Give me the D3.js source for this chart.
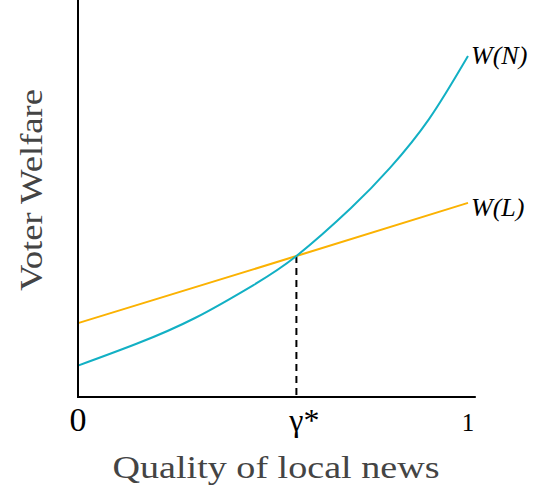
<!DOCTYPE html>
<html>
<head>
<meta charset="utf-8">
<script src="https://cdn.jsdelivr.net/npm/d3@7"></script>
<style>
  body { margin: 0; background: #fff; }
  svg { display: block; }
</style>
</head>
<body>
<div id="chart"></div>
<script>
// Voter welfare vs quality of local news: W(N) convex, W(L) linear, crossing at gamma*.

const quality = [0, 0.15, 0.3, 0.45, 0.56, 0.7, 0.8, 0.9, 1.0];
const welfareN = [0.079, 0.134, 0.199, 0.282, 0.355, 0.476, 0.577, 0.700, 0.859];
const qualityL = [0, 0.56, 1.0];
const welfareL = [0.186, 0.355, 0.489];
const gammaStar = 0.56;
const xTicks = [
  { v: 0, label: "0", size: 34 },
  { v: gammaStar, label: "γ*", size: 32 },
  { v: 1, label: "1", size: 25 }
];

const width = 543, height = 501;
const margin = { top: 0, left: 78, right: 75, bottom: 104 };

const svg = d3.select("#chart").append("svg")
  .attr("width", width).attr("height", height);

const x = d3.scaleLinear().domain([0, 1]).range([margin.left, width - margin.right]);
const y = d3.scaleLinear().domain([0, 1]).range([height - margin.bottom, margin.top]);

const line = d3.line().x(d => x(d[0])).y(d => y(d[1])).curve(d3.curveNatural);

// dashed drop line at gamma*
const yStar = welfareN[quality.indexOf(gammaStar)];
svg.append("line")
  .attr("x1", x(gammaStar)).attr("x2", x(gammaStar))
  .attr("y1", y(yStar)).attr("y2", y(0))
  .attr("stroke", "#000").attr("stroke-width", 2)
  .attr("stroke-dasharray", "7,5");

svg.append("path")
  .datum(d3.zip(qualityL, welfareL))
  .attr("d", line)
  .attr("fill", "none").attr("stroke", "#fbb202").attr("stroke-width", 2);

svg.append("path")
  .datum(d3.zip(quality, welfareN))
  .attr("d", line)
  .attr("fill", "none").attr("stroke", "#12b0c4").attr("stroke-width", 2);

// axes (plain lines, no ticks)
svg.append("path")
  .attr("d", `M${x(0)},${y(1)}V${y(0)}H${x(1.02)}`)
  .attr("fill", "none").attr("stroke", "#000").attr("stroke-width", 2);

const serif = "'Liberation Serif','Times New Roman',serif";

svg.selectAll("text.tick").data(xTicks).join("text")
  .attr("class", "tick")
  .attr("x", d => x(d.v) + (d.v === gammaStar ? 8 : 0)).attr("y", 431)
  .attr("text-anchor", "middle")
  .attr("font-family", serif).attr("font-size", d => d.size)
  .attr("fill", "#000")
  .text(d => d.label);

// series labels
svg.append("text")
  .attr("x", x(1) + 3).attr("y", y(welfareN[welfareN.length - 1]) + 8)
  .attr("font-family", serif).attr("font-style", "italic").attr("font-size", 26)
  .text("W(N)");
svg.append("text")
  .attr("x", x(1) + 3).attr("y", y(welfareL[welfareL.length - 1]) + 13)
  .attr("font-family", serif).attr("font-style", "italic").attr("font-size", 26)
  .text("W(L)");

// axis titles
svg.append("text")
  .attr("x", 276).attr("y", 478)
  .attr("text-anchor", "middle")
  .attr("font-family", serif).attr("font-size", 32).attr("fill", "#444")
  .attr("textLength", 327).attr("lengthAdjust", "spacingAndGlyphs")
  .text("Quality of local news");

svg.append("text")
  .attr("transform", "translate(42,190) rotate(-90)")
  .attr("text-anchor", "middle")
  .attr("font-family", serif).attr("font-size", 31).attr("fill", "#444")
  .attr("textLength", 202).attr("lengthAdjust", "spacingAndGlyphs")
  .text("Voter Welfare");
</script>
</body>
</html>
